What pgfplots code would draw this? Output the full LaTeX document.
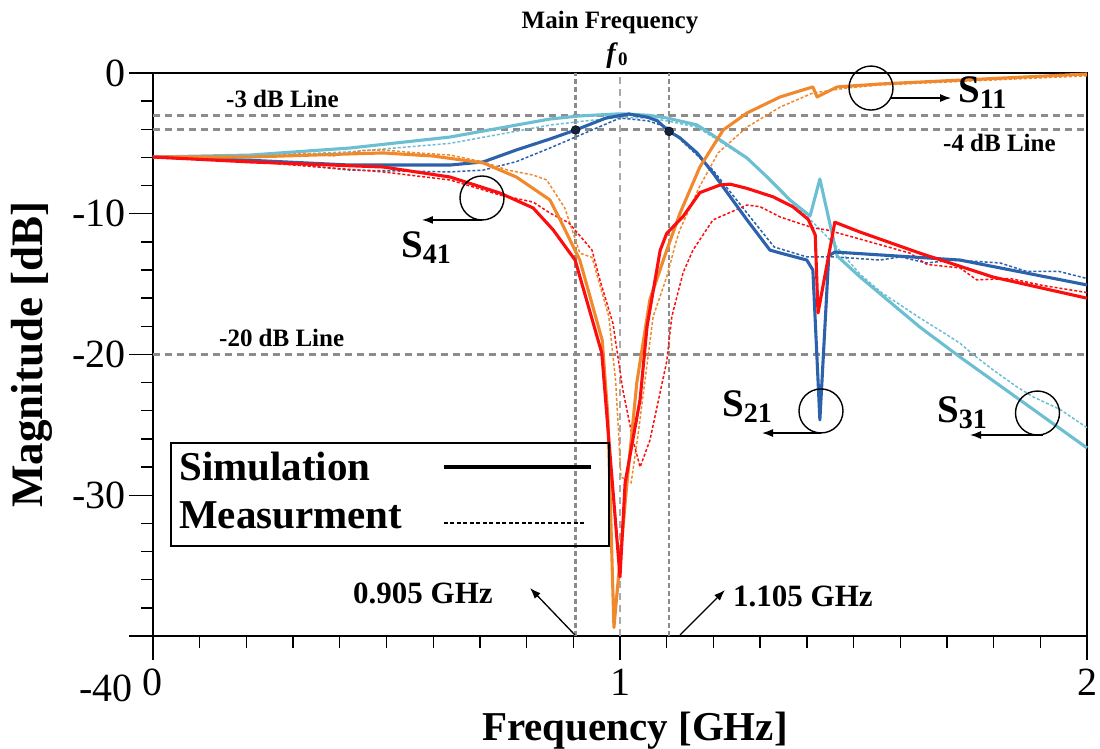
\documentclass[border=0pt]{standalone}
\usepackage{fontspec}
\setmainfont{Liberation Serif}
\usepackage{pgfplots}
\pgfplotsset{compat=1.18}
\usetikzlibrary{arrows.meta}

\definecolor{cSone}{RGB}{240,136,44}
\definecolor{cStwo}{RGB}{44,98,172}
\definecolor{cSthree}{RGB}{108,190,210}
\definecolor{cSfour}{RGB}{252,14,14}
\definecolor{refgray}{RGB}{140,140,140}
\definecolor{reflight}{RGB}{170,170,170}
\definecolor{dotnavy}{RGB}{20,35,60}

\tikzset{
  sim/.style={line width=3.1pt, line join=round},
  meas/.style={line width=1.5pt, dash pattern=on 3pt off 2pt},
  refline/.style={refgray, line width=2.8pt, dash pattern=on 7pt off 5pt},
  anno/.style={font=\bfseries\fontsize{25}{25}\selectfont, inner sep=0pt},
  sname/.style={font=\bfseries\fontsize{39}{39}\selectfont, inner sep=0pt},
  pointer/.style={-{Latex[length=11pt,width=8pt]}, line width=1.3pt},
}
\newcommand{\sub}[1]{\raisebox{-6pt}{\fontsize{28}{28}\selectfont #1}}

\begin{document}
\begin{tikzpicture}
\begin{axis}[
  width=934pt, height=563pt, scale only axis,
  xmin=0, xmax=2, ymin=-40, ymax=0,
  clip=false,
  axis line style={line width=1.6pt},
  xtick={0,1,2}, xticklabels={0,1,2},
  ytick={-40,-30,-20,-10,0}, yticklabels={,-30,-20,-10,0},
  minor x tick num=9, minor y tick num=4,
  tick align=outside, xtick pos=bottom, ytick pos=left,
  major tick length=24pt, minor tick length=12pt,
  every tick/.style={black, line width=1.4pt},
  ticklabel style={font=\fontsize{40}{40}\selectfont, inner sep=3pt},
  xticklabel style={yshift=-6pt},
  xlabel={Frequency [GHz]},
  xlabel style={font=\bfseries\fontsize{41}{41}\selectfont,
    at={(axis description cs:0.516,-0.168)}, anchor=center},
  ylabel={Magnitude [dB]},
  ylabel style={font=\bfseries\fontsize{45}{45}\selectfont,
    at={(axis description cs:-0.13,0.5)}, anchor=center},
]

% reference lines
\draw[refline] (axis cs:0,-3) -- (axis cs:2,-3);
\draw[refline] (axis cs:0,-4) -- (axis cs:2,-4);
\draw[refline] (axis cs:0,-20) -- (axis cs:2,-20);
\draw[refgray, line width=2.6pt, dash pattern=on 5pt off 3pt] (axis cs:0.905,-40) -- (axis cs:0.905,0);
\draw[refgray, line width=2.6pt, dash pattern=on 5pt off 3pt] (axis cs:1.105,-40) -- (axis cs:1.105,0);
\draw[reflight, line width=2.8pt, dash pattern=on 7pt off 5pt] (axis cs:1,-40) -- (axis cs:1,0);

% measured responses
\addplot[meas, cSthree] coordinates {
(0,-5.97)(0.208,-5.9)(0.422,-5.6)(0.636,-5.0)(0.85,-3.7)(0.914,-3.45)(1.0,-3.15)
(1.06,-3.2)(1.101,-3.4)(1.165,-3.85)(1.214,-4.85)(1.272,-6.1)(1.315,-7.4)(1.364,-9.1)
(1.407,-10.4)(1.46,-12.2)(1.514,-14.3)(1.56,-15.6)(1.642,-17.4)(1.70,-18.6)(1.728,-19.2)
(1.756,-20.0)(1.799,-21.1)(1.85,-22.3)(1.884,-23.0)(1.942,-23.9)(2.0,-25.2)};
\addplot[meas, cStwo] coordinates {
(0,-5.97)(0.208,-6.2)(0.422,-6.9)(0.636,-7.03)(0.707,-6.9)(0.778,-6.3)(0.850,-5.33)
(0.905,-4.55)(1.0,-3.2)(1.06,-3.4)(1.1,-3.84)(1.165,-5.83)(1.199,-6.9)(1.272,-9.95)
(1.33,-12.36)(1.40,-13.07)(1.46,-13.07)(1.557,-13.29)(1.60,-13.07)(1.657,-13.5)
(1.71,-13.3)(1.77,-13.4)(1.814,-13.5)(1.871,-14.1)(1.94,-14.1)(2.0,-14.6)};
\addplot[meas, cSone] coordinates {
(0,-5.97)(0.25,-5.9)(0.32,-5.7)(0.385,-5.9)(0.45,-5.5)(0.493,-5.47)(0.567,-5.68)
(0.636,-5.83)(0.707,-6.32)(0.76,-6.9)(0.814,-7.25)(0.843,-7.6)(0.882,-9.6)(0.914,-12.8)
(0.94,-13.1)(0.976,-17.3)(0.991,-22.0)(1.002,-28.7)(1.024,-29.1)(1.039,-25.6)(1.071,-17.3)
(1.10,-14.5)(1.12,-12.0)(1.128,-11.15)(1.17,-8.1)(1.21,-5.68)(1.272,-3.84)(1.343,-2.42)
(1.413,-1.42)(1.485,-1.07)(1.557,-0.85)(2.0,-0.2)};
\addplot[meas, cSfour] coordinates {
(0,-5.97)(0.208,-6.3)(0.493,-7.03)(0.636,-7.6)(0.743,-8.67)(0.814,-9.17)(0.85,-9.95)
(0.891,-10.66)(0.94,-12.58)(0.957,-14.7)(0.985,-17.8)(1.006,-22.5)(1.028,-26.1)
(1.043,-28.0)(1.064,-26.1)(1.10,-20.5)(1.111,-17.3)(1.135,-14.2)(1.156,-12.6)
(1.199,-10.44)(1.272,-9.38)(1.30,-9.5)(1.343,-10.23)(1.413,-11.0)(1.443,-11.15)
(1.514,-11.8)(1.621,-12.8)(1.657,-13.6)(1.728,-13.85)(1.764,-14.7)(1.835,-14.6)
(1.906,-15.1)(2.0,-15.6)};

% simulated responses
\addplot[sim, cSthree] coordinates {
(0,-5.97)(0.208,-5.83)(0.422,-5.33)(0.636,-4.55)(0.85,-3.27)(0.914,-3.05)(1.0,-2.9)
(1.06,-3.0)(1.101,-3.2)(1.165,-3.69)(1.214,-4.76)(1.272,-6.04)(1.315,-7.39)(1.364,-9.02)
(1.407,-10.16)(1.428,-7.53)(1.446,-10.2)(1.465,-13.0)(1.514,-14.49)(1.642,-18.05)
(1.728,-20.18)(2.0,-26.64)};
\addplot[sim, cStwo] coordinates {
(0,-5.97)(0.208,-6.2)(0.422,-6.54)(0.636,-6.54)(0.707,-6.32)(0.778,-5.47)(0.850,-4.69)
(0.905,-4.05)(0.970,-3.2)(1.019,-2.91)(1.06,-3.15)(1.08,-3.4)(1.105,-4.15)(1.128,-4.6)
(1.165,-5.68)(1.199,-7.1)(1.272,-10.44)(1.321,-12.58)(1.343,-12.79)(1.400,-13.29)
(1.413,-14.0)(1.428,-24.65)(1.447,-13.0)(1.460,-12.72)(1.728,-13.29)(2.0,-15.06)};
\addplot[sim, cSone] coordinates {
(0,-5.97)(0.208,-5.97)(0.422,-5.75)(0.493,-5.68)(0.6,-5.9)(0.707,-6.39)(0.778,-7.39)
(0.850,-9.02)(0.872,-10.44)(0.914,-13.3)(0.962,-19.0)(0.974,-24.4)(0.987,-39.4)
(1.015,-29.1)(1.036,-22.0)(1.064,-16.1)(1.10,-12.6)(1.128,-10.0)(1.171,-6.68)
(1.221,-4.05)(1.272,-2.84)(1.343,-1.7)(1.413,-0.99)(1.422,-1.7)(1.465,-0.99)
(1.557,-0.78)(2.0,-0.07)};
\addplot[sim, cSfour] coordinates {
(0,-5.97)(0.208,-6.32)(0.493,-6.68)(0.636,-7.39)(0.743,-8.53)(0.814,-9.59)(0.857,-11.15)
(0.904,-13.3)(0.961,-19.9)(1.0,-35.8)(1.011,-29.1)(1.043,-23.2)(1.058,-18.0)(1.086,-12.6)
(1.10,-11.4)(1.135,-10.2)(1.171,-8.5)(1.214,-7.96)(1.236,-7.9)(1.272,-8.2)(1.328,-8.8)
(1.37,-9.5)(1.403,-10.4)(1.418,-11.5)(1.424,-17.05)(1.46,-10.6)(1.514,-11.3)
(1.642,-12.8)(1.799,-14.5)(2.0,-16.0)};

% -4 dB crossing points of S21
\addplot[only marks, mark=*, mark size=4.5pt, draw=black, fill=dotnavy] coordinates {
(0.905,-4.05)(1.105,-4.15)};

% marker circles around the traces
\addplot[only marks, mark=o, mark size=22pt, black, line width=1.4pt] coordinates {
(1.5375,-1.07)(0.7045,-8.88)(1.4304,-24.01)(1.894,-24.16)};

% pointers from the circles to the trace names
\draw[pointer] (axis cs:1.578,-1.78) -- (axis cs:1.709,-1.78);
\draw[pointer] (axis cs:0.7045,-10.44) -- (axis cs:0.576,-10.44);
\draw[pointer] (axis cs:1.4304,-25.58) -- (axis cs:1.3041,-25.58);
\draw[pointer] (axis cs:1.906,-25.72) -- (axis cs:1.7495,-25.72);

% trace names
\node[sname, anchor=base west] at (axis cs:1.7238,-2.13) {S\sub{11}};
\node[sname, anchor=base west] at (axis cs:0.531,-13.14) {S\sub{41}};
\node[sname, anchor=base west] at (axis cs:1.2184,-24.44) {S\sub{21}};
\node[sname, anchor=base west] at (axis cs:1.6788,-24.80) {S\sub{31}};

% reference line labels
\node[anno, anchor=base west] at (axis cs:0.1563,-2.42) {-3 dB Line};
\node[anno, anchor=base west] at (axis cs:1.6916,-5.61) {-4 dB Line};
\node[anno, anchor=base west] at (axis cs:0.1413,-19.40) {-20 dB Line};
\node[anno, anchor=base] at (axis cs:0.9786,3.13) {Main Frequency};
\node[font=\bfseries\fontsize{28}{28}\selectfont, inner sep=0pt, anchor=base] at (axis cs:0.9936,0.78) {\textit{f}\raisebox{-3pt}{\fontsize{19}{19}\selectfont 0}};

% band edge labels
\node[font=\bfseries\fontsize{31}{31}\selectfont, inner sep=0pt, anchor=base west] at (axis cs:0.4283,-37.66) {0.905 GHz};
\node[font=\bfseries\fontsize{31}{31}\selectfont, inner sep=0pt, anchor=base west] at (axis cs:1.242,-37.94) {1.105 GHz};
\draw[pointer] (axis cs:0.9036,-39.93) -- (axis cs:0.8073,-36.59);
\draw[pointer] (axis cs:1.1285,-39.93) -- (axis cs:1.2248,-36.73);

% line style key
\draw[line width=1.4pt] (axis cs:0.0385,-26.29) rectangle (axis cs:0.9764,-33.61);
\node[font=\bfseries\fontsize{41}{41}\selectfont, inner sep=0pt, anchor=base west] at (axis cs:0.0557,-28.92) {Simulation};
\node[font=\bfseries\fontsize{41}{41}\selectfont, inner sep=0pt, anchor=base west] at (axis cs:0.0557,-32.33) {Measurment};
\draw[line width=3.1pt] (axis cs:0.6231,-27.99) -- (axis cs:0.9379,-27.99);
\draw[line width=1.8pt, dash pattern=on 4pt off 2.5pt] (axis cs:0.6231,-31.97) -- (axis cs:0.9251,-31.97);

% lowest tick label, set below the corner
\node[font=\fontsize{40}{40}\selectfont, inner sep=0pt, anchor=east] at (axis cs:0,-40) [xshift=-20pt, yshift=-52pt] {-40};

\coordinate (BL) at (axis cs:-0.32762,-48.029);
\coordinate (TR) at (axis cs:2.02784,5.1865);
\end{axis}
\pgfresetboundingbox
\path[use as bounding box] (BL) rectangle (TR);
\end{tikzpicture}
\end{document}
